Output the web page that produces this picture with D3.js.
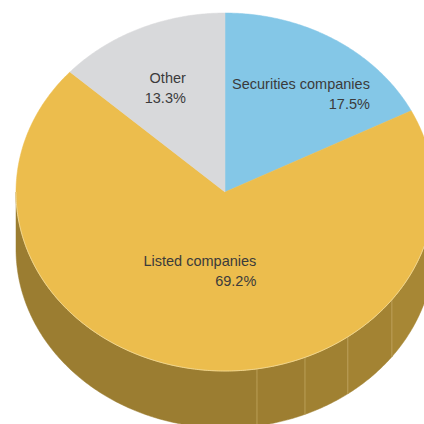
<!DOCTYPE html>
<html><head><meta charset="utf-8">
<script src="https://cdn.jsdelivr.net/npm/d3@7"></script>
<style>html,body{margin:0;padding:0;background:#fff;overflow:hidden}svg{display:block}</style>
</head><body>
<svg id="c" width="424" height="424"></svg>
<script>
// ---- data ----
const categories = ["Securities companies", "Listed companies", "Other"];
const values = [17.5, 69.2, 13.3];
const valueLabels = ["17.5%", "69.2%", "13.3%"];
const topColors = ["#84c7e7", "#ecbd4d", "#d8d9db"];
const sideColors = ["#5f8fa8", "#9b7d31", "#9c9d9f"];

// ---- layout ----
const cx = 225, cy = 192, rx = 209, ry = 179, depth = 57;
const labelFrac = [0.65, 0.44, 0.64];
const labelDx = [5, -13, -3];
const labelDy = [0, 0, 0];

const svg = d3.select("#c");
const pie = d3.pie().sort(null).value(d => d).startAngle(0).endAngle(2 * Math.PI);
const arcs = pie(values);

const px = (t, r = 1) => cx + rx * r * Math.sin(t);
const py = (t, r = 1, off = 0) => cy - ry * r * Math.cos(t) + off;

function topPath(a0, a1) {
  const p = d3.path();
  p.moveTo(cx, cy);
  const n = Math.max(8, Math.ceil((a1 - a0) / 0.01));
  for (let i = 0; i <= n; i++) {
    const t = a0 + (a1 - a0) * i / n;
    p.lineTo(px(t), py(t));
  }
  p.closePath();
  return p.toString();
}
function sidePath(a0, a1) {
  const p = d3.path();
  const n = Math.max(8, Math.ceil((a1 - a0) / 0.01));
  for (let i = 0; i <= n; i++) {
    const t = a0 + (a1 - a0) * i / n;
    if (i === 0) p.moveTo(px(t), py(t)); else p.lineTo(px(t), py(t));
  }
  for (let i = n; i >= 0; i--) {
    const t = a0 + (a1 - a0) * i / n;
    p.lineTo(px(t), py(t, 1, depth));
  }
  p.closePath();
  return p.toString();
}

// side facets (front half only: PI/2 .. 3PI/2)
const deg = Math.PI / 180;
const facetBreaks = [90, 127, 144, 157.5, 171.2, 270].map(d => d * deg);
const facetShade = [1.08, 1.05, 1.03, 1.01, 1.0];
const gSide = svg.append("g");
arcs.forEach((a, i) => {
  const s0 = Math.max(a.startAngle, Math.PI / 2), s1 = Math.min(a.endAngle, 3 * Math.PI / 2);
  if (s1 <= s0) return;
  for (let k = 0; k < facetBreaks.length - 1; k++) {
    const f0 = Math.max(s0, facetBreaks[k]), f1 = Math.min(s1, facetBreaks[k + 1]);
    if (f1 <= f0) continue;
    const c = d3.color(sideColors[i]).brighter(0).copy();
    const base = d3.rgb(sideColors[i]);
    const sh = facetShade[k];
    const col = d3.rgb(Math.min(255, base.r * sh), Math.min(255, base.g * sh), Math.min(255, base.b * sh));
    gSide.append("path").attr("d", sidePath(f0, f1)).attr("fill", col.toString())
      .attr("stroke", col.toString()).attr("stroke-width", 0.5);
  }
  // seams
  facetBreaks.slice(1, -1).forEach(t => {
    if (t > s0 && t < s1) {
      gSide.append("line").attr("x1", px(t)).attr("y1", py(t)).attr("x2", px(t)).attr("y2", py(t, 1, depth))
        .attr("stroke", "#c4a862").attr("stroke-width", 0.8);
    }
  });
});

// top face
const gTop = svg.append("g");
arcs.forEach((a, i) => {
  gTop.append("path").attr("d", topPath(a.startAngle, a.endAngle))
    .attr("fill", topColors[i]).attr("stroke", topColors[i]).attr("stroke-width", 0.5);
});
// light rim on front edge
{
  const p = d3.path();
  const a0 = Math.PI / 2, a1 = 3 * Math.PI / 2, n = 300;
  for (let i = 0; i <= n; i++) {
    const t = a0 + (a1 - a0) * i / n;
    if (i === 0) p.moveTo(px(t), py(t)); else p.lineTo(px(t), py(t));
  }
  gTop.append("path").attr("d", p.toString()).attr("fill", "none")
    .attr("stroke", "#f3dc9c").attr("stroke-width", 0.8);
}

// labels
const gLab = svg.append("g").style("font-family", "'Liberation Sans', Arial, Helvetica, sans-serif")
  .style("font-size", "14.5px").attr("fill", "#3b3b3b");
arcs.forEach((a, i) => {
  const mid = (a.startAngle + a.endAngle) / 2;
  const ax = px(mid, labelFrac[i]) + labelDx[i];
  const ay = py(mid, labelFrac[i]) + labelDy[i];
  const t = gLab.append("text").attr("text-anchor", "end");
  const l1 = t.append("tspan").text(categories[i]);
  const w = Math.max(l1.node().getComputedTextLength(), 0);
  const right = ax + w / 2;
  l1.attr("x", right).attr("y", ay - 4);
  t.append("tspan").attr("x", right).attr("y", ay + 16).text(valueLabels[i]);
});
</script>
</body></html>
